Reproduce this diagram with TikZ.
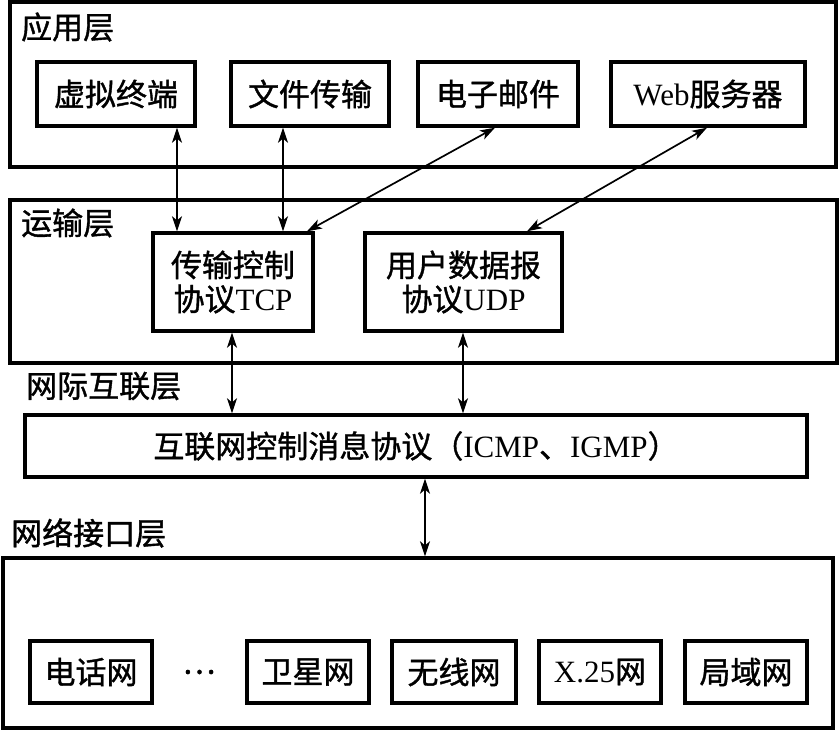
\documentclass[tikz,border=0pt]{standalone}
\usepackage{fontspec}
\setmainfont{Liberation Serif}
\newfontfamily\cjk[FakeBold=1.2]{Noto Sans CJK SC}
\usetikzlibrary{arrows.meta}
\begin{document}
\begin{tikzpicture}[x=1pt,y=-1pt,
  layer/.style={draw,line width=3.4pt,inner sep=0pt},
  box/.style={draw,line width=3.4pt,inner sep=0pt,align=center,font=\fontsize{31}{34}\selectfont},
  lbl/.style={anchor=west,inner sep=0pt,font=\fontsize{31}{34}\selectfont\cjk},
  conn/.style={line width=1.7pt,{Stealth[length=15pt,width=10pt,inset=4pt]}-{Stealth[length=15pt,width=10pt,inset=4pt]}}]
\useasboundingbox (0,0) rectangle (839,731);
% layers
\node[layer,minimum width=826pt,minimum height=165pt] (app) at (423,84.5) {};
\node[layer,minimum width=827pt,minimum height=163pt] (trans) at (423.5,281.5) {};
\node[layer,minimum width=830pt,minimum height=170pt] (netif) at (418,643) {};
% layer labels
\node[lbl] (lapp) at (21,27) {应用层};
\node[lbl] (ltrans) at (21,223) {运输层};
\node[lbl] (linet) at (26,386) {网际互联层};
\node[lbl] (lnet) at (11,533) {网络接口层};
% application boxes
\node[box,minimum width=158pt,minimum height=64pt] (vt) at (116,94) {\cjk 虚拟终端};
\node[box,minimum width=158pt,minimum height=64pt] (ft) at (310,94) {\cjk 文件传输};
\node[box,minimum width=160pt,minimum height=64pt] (em) at (498,94) {\cjk 电子邮件};
\node[box,minimum width=194pt,minimum height=64pt] (web) at (708,94) {Web{\cjk 服务器}};
% transport boxes
\node[box,minimum width=160pt,minimum height=98pt] (tcp) at (233,282) {{\cjk 传输控制}\\{\cjk 协议}TCP};
\node[box,minimum width=197pt,minimum height=98pt] (udp) at (463.5,282) {{\cjk 用户数据报}\\{\cjk 协议}UDP};
% internet
\node[box,minimum width=782pt,minimum height=62pt] (icmp) at (416,446) {{\cjk 互联网控制消息协议（}ICMP{\cjk 、}IGMP{\cjk ）}};
% network boxes
\node[box,minimum width=122pt,minimum height=62pt] (tel) at (91,672) {\cjk 电话网};
\node[inner sep=0pt,font=\fontsize{31}{34}\selectfont\cjk] (dots) at (199,672) {⋯};
\node[box,minimum width=122pt,minimum height=62pt] (sat) at (308,672) {\cjk 卫星网};
\node[box,minimum width=124pt,minimum height=62pt] (wl) at (454,672) {\cjk 无线网};
\node[box,minimum width=122pt,minimum height=62pt] (x25) at (600,672) {X.25{\cjk 网}};
\node[box,minimum width=122pt,minimum height=62pt] (lan) at (746,672) {\cjk 局域网};
% connectors
\draw[conn] (vt.south -| 177,0) -- (tcp.north -| 177,0);
\draw[conn] (ft.south -| 283,0) -- (tcp.north -| 283,0);
\draw[conn] (em.south -| 495,0) -- (tcp.north -| 307,0);
\draw[conn] (web.south -| 707,0) -- (udp.north -| 527,0);
\draw[conn] (tcp.south -| 232,0) -- (icmp.north -| 232,0);
\draw[conn] (udp.south -| 463,0) -- (icmp.north -| 463,0);
\draw[conn] (icmp.south -| 425,0) -- (netif.north -| 425,0);
\end{tikzpicture}
\end{document}
